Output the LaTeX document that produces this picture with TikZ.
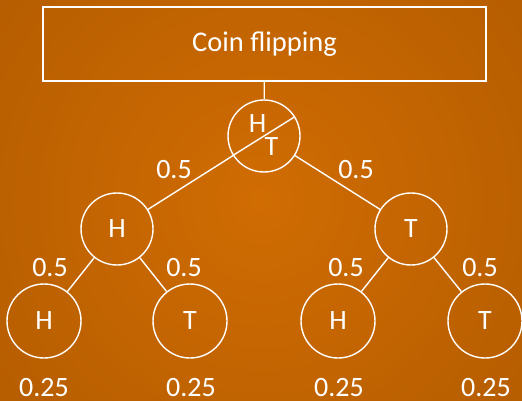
\documentclass[tikz,border=0pt]{standalone}
\usepackage{fontspec}
\setmainfont{Carlito}
\usetikzlibrary{calc}
\definecolor{cin}{RGB}{208,108,2}
\definecolor{cout}{RGB}{156,79,0}
\pgfdeclareradialshading{bgshade}{\pgfpoint{0bp}{0bp}}{color(0bp)=(cin); color(50bp)=(cout)}
\begin{document}
\begin{tikzpicture}[x=1pt,y=-1pt,
  every node/.style={text=white,inner sep=0pt},
  ln/.style={draw=white,line width=1.4pt},
  coin/.style={circle,draw=white,line width=1.4pt,minimum size=72pt,font=\fontsize{28}{32}\selectfont},
  coinb/.style={coin,minimum size=74pt},
  lbl/.style={font=\fontsize{28}{32}\selectfont},
  titlebox/.style={draw=white,line width=1.4pt,minimum width=443pt,minimum height=74pt,font=\fontsize{28.5}{32}\selectfont}]
\useasboundingbox (0,0) rectangle (522,401);
\begin{scope}
\clip (0,0) rectangle (522,401);
\shade[shading=bgshade] (261,200) circle (330);
\end{scope}
\node[titlebox] (title) at (264.5,44) {Coin flipping};
\node[coin] (root) at (264,136) {};
\node[lbl] (rh) at (257.5,124) {H};
\node[lbl] (rt) at (271.5,146.5) {T};
\node[coin] (h1) at (117,229) {H};
\node[coin] (t1) at (411,229) {T};
\node[coinb] (hh) at (44,321) {H};
\node[coinb] (ht) at (190,321) {T};
\node[coinb] (th) at (338,321) {H};
\node[coinb] (tt) at (485,321) {T};
\draw[ln] (title) -- (root);
\draw[ln] (root) -- (h1);
\draw[ln] (root) -- (t1);
\draw[ln] (root.212.3) -- (root.32.3);
\draw[ln] (h1) -- (hh);
\draw[ln] (h1) -- (ht);
\draw[ln] (t1) -- (th);
\draw[ln] (t1) -- (tt);
\node[lbl] (p1) at (174,170) {0.5};
\node[lbl] (p2) at (356,170) {0.5};
\node[lbl] (p3) at (50,268) {0.5};
\node[lbl] (p4) at (184,268) {0.5};
\node[lbl] (p5) at (346,268) {0.5};
\node[lbl] (p6) at (480,268) {0.5};
\node[lbl] (q1) at (44,388) {0.25};
\node[lbl] (q2) at (191,388) {0.25};
\node[lbl] (q3) at (339,388) {0.25};
\node[lbl] (q4) at (486,388) {0.25};
\end{tikzpicture}
\end{document}
